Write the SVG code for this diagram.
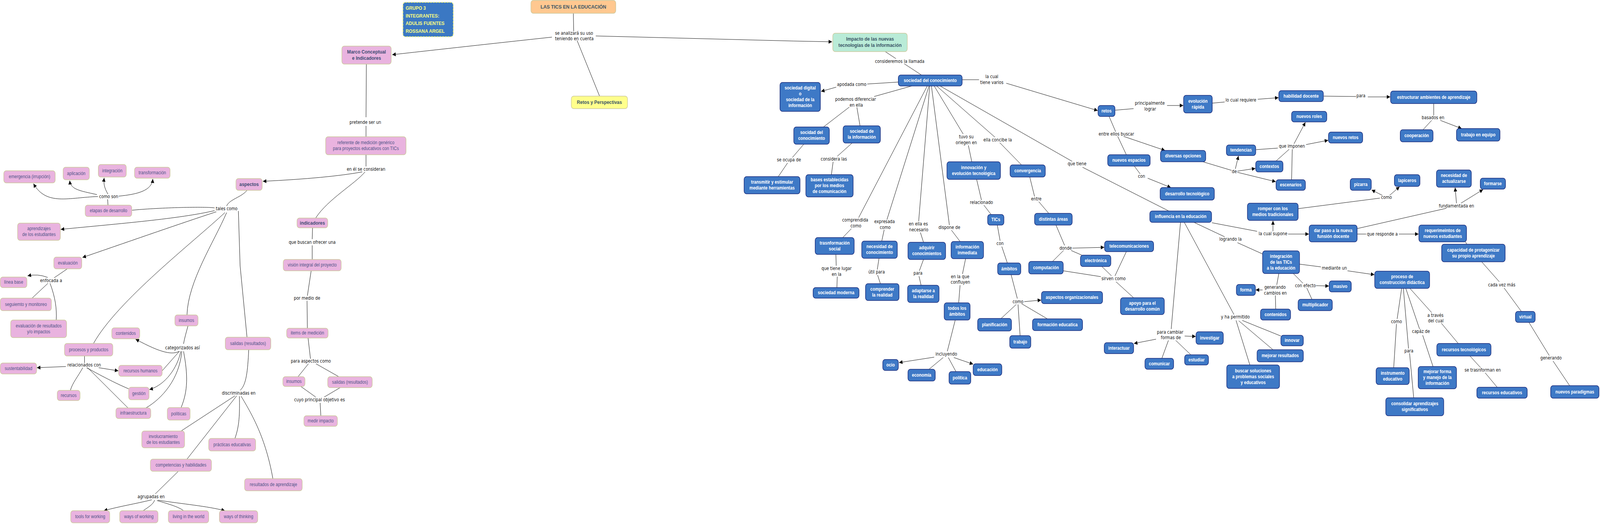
<svg xmlns="http://www.w3.org/2000/svg" width="4638" height="1341" viewBox="0 0 4638 1341" preserveAspectRatio="none">
<defs>
<style>
svg{width:100vw;height:100vh;display:block}
.np{fill:#E9B3DF;stroke:#CCC89A;stroke-width:1.5}
.nb{fill:#3E79C6;stroke:#172A7C;stroke-width:1.6}
.tp{font-family:"Liberation Sans",Arial,sans-serif;font-size:12px;fill:#505488;text-anchor:middle}
.tpb{font-family:"Liberation Sans",Arial,sans-serif;font-size:13px;font-weight:bold;fill:#3F4B74;text-anchor:middle}
.tb{font-family:"Liberation Sans",Arial,sans-serif;font-size:12px;font-weight:bold;fill:#FFFFFF;text-anchor:middle}
.tl{font-family:"DejaVu Sans",Verdana,sans-serif;font-size:11.5px;fill:#111111;text-anchor:middle}
.th{font-family:"Liberation Sans",Arial,sans-serif;font-weight:bold;fill:#3B5566;text-anchor:middle}
#connectors path{fill:none;stroke:#000;stroke-width:1}
#connectors path.a{marker-end:url(#ah)}
</style>
<marker id="ah" viewBox="0 0 10 10" refX="10" refY="5" markerWidth="11" markerHeight="10" markerUnits="userSpaceOnUse" orient="auto"><path d="M0,0 L10,5 L0,10 z" fill="#000"/></marker>
</defs>
<rect width="4638" height="1341" fill="#FFFFFF"/>

<g id="connectors">
<path d="M1662,34 L1663,80"/>
<path class="a" d="M1600,95 Q1400,114 1137,140"/>
<path class="a" d="M1727,92 L2300,105 L2412,107"/>
<path d="M1673,104 L1738,246"/>
<path d="M1062,164 L1061,300 M1061,322 L1061,350"/>
<path d="M1061,396 L1061,426"/>
<path class="a" d="M1050,440 Q950,456 762,464"/>
<path d="M1058,440 C1030,470 950,510 915,558"/>
<path d="M906,583 L905,612 M905,628 L905,664"/>
<path d="M902,693 L891,757 M890,770 L891,840"/>
<path d="M893,865 L900,918 M894,931 L864,964 M916,931 L982,964"/>
<path d="M872,989 L915,1016 M986,992 L940,1016 M928,1031 L930,1064"/>
<path d="M716,487 C700,505 665,510 657,527"/>
<path d="M622,532 C590,528 450,532 383,538"/>
<path class="a" d="M622,539 C520,560 350,572 176,587"/>
<path class="a" d="M627,542 C530,570 400,610 239,659"/>
<path d="M652,544 C560,620 340,770 271,879"/>
<path d="M657,544 C620,620 545,720 542,806"/>
<path d="M691,540 L696,680 L716,863"/>
<path d="M313,525 L312,510"/>
<path class="a" d="M284,503 C200,505 135,528 97,470"/>
<path class="a" d="M281,498 C230,488 205,485 202,462"/>
<path class="a" d="M313,497 C302,480 300,470 302,455"/>
<path class="a" d="M344,502 C400,497 440,488 443,458"/>
<path d="M195,688 L157,711"/>
<path class="a" d="M138,710 Q110,700 80,706"/>
<path d="M139,725 L93,763"/>
<path d="M145,725 C160,760 165,790 163,819"/>
<path d="M245,911 L245,929"/>
<path class="a" d="M191,938 L107,941"/>
<path class="a" d="M286,941 L343,949"/>
<path d="M240,941 C225,965 210,980 204,999"/>
<path d="M251,941 C300,965 345,985 373,995"/>
<path d="M254,941 L371,1044"/>
<path d="M545,834 C540,850 535,865 532,880"/>
<path class="a" d="M520,899 C500,908 470,905 393,868"/>
<path d="M520,899 L470,949"/>
<path class="a" d="M524,899 C515,940 480,985 433,997"/>
<path d="M527,899 C520,970 470,1020 423,1044"/>
<path d="M532,899 C545,960 545,1000 525,1043"/>
<path d="M721,895 C718,950 714,985 696,999"/>
<path d="M681,1013 L525,1103"/>
<path d="M686,1013 L542,1175"/>
<path d="M694,1014 C695,1060 694,1090 681,1122"/>
<path d="M699,1014 C730,1060 770,1120 791,1225"/>
<path d="M517,1206 L450,1264"/>
<path class="a" d="M440,1279 C390,1290 350,1295 301,1307"/>
<path d="M448,1280 C445,1290 430,1298 415,1307"/>
<path d="M455,1281 C490,1290 520,1298 532,1307"/>
<path class="a" d="M458,1280 C530,1290 600,1295 652,1307"/>

<path d="M2566,132 L2597,150 M2621,163 L2671,192"/>
<path d="M2604,210 L2514,215"/>
<path class="a" d="M2424,223 L2380,234"/>
<path d="M2789,204 L2838,204"/>
<path class="a" d="M2917,213 L3182,283"/>
<path d="M2643,220 L2534,247"/>
<path d="M2462,274 L2387,325 M2484,275 L2493,322"/>
<path d="M2330,369 L2297,403 M2283,417 L2256,452"/>
<path d="M2470,366 L2427,400 M2415,414 L2410,447"/>
<path d="M2688,220 L2489,557 M2468,585 L2443,608"/>
<path d="M2693,220 L2571,562 M2563,588 L2556,617"/>
<path d="M2695,220 L2663,566 M2668,595 L2677,620"/>
<path d="M2700,220 L2752,576 M2758,589 L2783,618"/>
<path d="M2708,220 L2792,343 M2807,372 L2817,414"/>
<path d="M2715,220 L2884,351 M2898,365 L2961,422"/>
<path d="M2725,220 L3108,413 M3138,428 L3388,540"/>
<path d="M2831,459 L2845,512 M2852,525 L2873,549"/>
<path d="M2891,576 L2899,616 M2904,631 L2920,673"/>
<path d="M2985,453 L2999,503 M3011,516 L3040,546"/>
<path d="M2931,703 L2949,764 M2946,779 L2902,815 M2951,779 L2957,859 M2961,777 L3036,816"/>
<path class="a" d="M2969,772 L3018,768"/>
<path d="M2799,662 L2790,701 M2783,730 L2779,775"/>
<path d="M2769,819 L2746,899 M2734,915 L2693,945 M2749,915 L2771,951"/>
<path class="a" d="M2708,914 L2606,928"/>
<path class="a" d="M2765,915 L2821,932"/>
<path d="M2423,651 L2424,680 M2427,708 L2426,736"/>
<path d="M2548,661 L2543,690 M2544,704 L2552,726"/>
<path d="M2677,664 L2665,693 M2664,707 L2670,730"/>
<path d="M3233,282 L3286,278"/>
<path class="a" d="M3383,270 L3430,270"/>
<path d="M3514,264 L3550,261"/>
<path class="a" d="M3646,254 L3706,250"/>
<path d="M3837,246 L3931,247"/>
<path class="a" d="M3965,248 L4030,248"/>
<path d="M4156,265 L4156,295 M4150,308 L4125,332"/>
<path class="a" d="M4175,308 L4237,329"/>
<path d="M3215,298 L3234,337 M3240,349 L3265,396"/>
<path class="a" d="M3257,349 L3377,385"/>
<path d="M3288,425 L3305,445"/>
<path class="a" d="M3327,456 L3394,480"/>
<path d="M3487,414 L3570,436"/>
<path class="a" d="M3581,432 L3590,399"/>
<path class="a" d="M3587,438 L3639,431"/>
<path class="a" d="M3587,441 L3698,465"/>
<path d="M3641,383 L3704,379 M3699,412 L3737,382 M3744,460 L3746,382"/>
<path class="a" d="M3751,368 L3784,313"/>
<path class="a" d="M3786,370 L3850,359"/>
<path d="M3513,570 L3644,592"/>
<path class="a" d="M3690,592 L3690,565"/>
<path class="a" d="M3734,599 L3794,599"/>
<path d="M3461,569 L3550,606 M3587,621 L3660,650"/>
<path d="M3767,676 L3829,683"/>
<path class="a" d="M3906,693 L3984,703"/>
<path d="M3707,700 L3701,729 M3697,756 L3698,791"/>
<path class="a" d="M3660,742 L3640,742"/>
<path d="M3749,700 L3777,725 M3788,737 L3803,766"/>
<path class="a" d="M3815,731 L3852,732"/>
<path d="M3422,569 L3395,842 M3387,871 L3368,917 M3408,871 L3452,908"/>
<path class="a" d="M3434,860 L3466,861"/>
<path class="a" d="M3351,868 L3287,879"/>
<path d="M3433,569 L3577,805 M3601,820 L3713,860 M3591,821 L3690,895 M3583,820 L3623,934"/>
<path d="M3061,576 L3086,628 M3105,641 L3136,653 M3083,641 L3050,670"/>
<path class="a" d="M3109,635 L3201,633"/>
<path d="M3082,693 L3191,708 M3194,682 L3222,706 M3265,644 L3232,706 M3235,721 L3286,762"/>
<path d="M3934,599 L3960,599"/>
<path class="a" d="M4055,599 L4112,599"/>
<path d="M3934,585 L4193,533"/>
<path class="a" d="M4222,520 L4218,480"/>
<path class="a" d="M4235,520 L4299,485"/>
<path d="M3763,534 L4000,507"/>
<path class="a" d="M4007,500 L3976,486"/>
<path class="a" d="M4028,500 L4057,478"/>
<path d="M4248,619 L4252,625"/>
<path d="M4295,670 L4346,721 M4360,737 L4410,797"/>
<path d="M4432,825 L4491,910 M4502,924 L4550,987"/>
<path d="M4063,738 L4050,816 M4048,829 L4040,941"/>
<path d="M4068,738 L4083,892 M4086,904 L4098,1018"/>
<path d="M4075,738 L4115,842 M4124,858 L4154,938"/>
<path d="M4087,738 L4150,800 M4178,827 L4227,879"/>
<path d="M4261,911 L4292,941 M4305,954 L4340,991"/>
</g>

<g id="labels">
<text class="tl" x="1664" y="89">se analizará su uso</text>
<text class="tl" x="1665" y="103">teniendo en cuenta</text>
<text class="tl" x="1059" y="317">pretende ser un</text>
<text class="tl" x="1061" y="437">en él se consideran</text>
<text class="tl" x="905" y="624">que buscan ofrecer una</text>
<text class="tl" x="890" y="767">por medio de</text>
<text class="tl" x="901" y="928">para  aspectos como</text>
<text class="tl" x="926" y="1027">cuyo principal objetivo es</text>
<text class="tl" x="315" y="507">como son</text>
<text class="tl" x="657" y="538">tales como</text>
<text class="tl" x="148" y="722">enfocada a</text>
<text class="tl" x="244" y="938">relacionados con</text>
<text class="tl" x="529" y="894">categorizados así</text>
<text class="tl" x="692" y="1010">discriminadas en</text>
<text class="tl" x="438" y="1275">agrupadas en</text>
<text class="tl" x="2608" y="161">consideremos la llamada</text>
<text class="tl" x="2875" y="200">la cual</text>
<text class="tl" x="2875" y="215">tiene varios</text>
<text class="tl" x="2469" y="220">apodada como</text>
<text class="tl" x="2480" y="258">podemos diferenciar</text>
<text class="tl" x="2482" y="273">en ella</text>
<text class="tl" x="2287" y="413">se ocupa de</text>
<text class="tl" x="2417" y="411">considera las</text>
<text class="tl" x="2801" y="354">tuvo su</text>
<text class="tl" x="2801" y="369">oriegen en</text>
<text class="tl" x="2892" y="362">ella concibe la</text>
<text class="tl" x="2845" y="522">relacionado</text>
<text class="tl" x="3004" y="513">entre</text>
<text class="tl" x="2479" y="567">comprendida</text>
<text class="tl" x="2481" y="582">como</text>
<text class="tl" x="2564" y="571">expresada</text>
<text class="tl" x="2566" y="586">como</text>
<text class="tl" x="2662" y="577">en ella es</text>
<text class="tl" x="2663" y="592">necesario</text>
<text class="tl" x="2752" y="586">dispone de</text>
<text class="tl" x="2899" y="627">con</text>
<text class="tl" x="2425" y="691">que tiene lugar</text>
<text class="tl" x="2425" y="706">en la</text>
<text class="tl" x="2541" y="700">útil para</text>
<text class="tl" x="2661" y="703">para</text>
<text class="tl" x="2783" y="712">en la que</text>
<text class="tl" x="2784" y="726">confluyen</text>
<text class="tl" x="2951" y="776">como</text>
<text class="tl" x="2743" y="910">incluyendo</text>
<text class="tl" x="3333" y="268">principalmente</text>
<text class="tl" x="3334" y="283">lograr</text>
<text class="tl" x="3597" y="260">lo cual requiere</text>
<text class="tl" x="3945" y="249">para</text>
<text class="tl" x="4154" y="305">basados en</text>
<text class="tl" x="3236" y="347">entre ellos buscar</text>
<text class="tl" x="3745" y="378">que imponen</text>
<text class="tl" x="3122" y="423">que tiene</text>
<text class="tl" x="3578" y="443">de</text>
<text class="tl" x="3309" y="455">con</text>
<text class="tl" x="3690" y="602">la cual supone</text>
<text class="tl" x="3567" y="616">logrando la</text>
<text class="tl" x="3089" y="639">donde</text>
<text class="tl" x="3228" y="717">sirven como</text>
<text class="tl" x="3868" y="690">mediante un</text>
<text class="tl" x="3696" y="739">generando</text>
<text class="tl" x="3697" y="754">cambios en</text>
<text class="tl" x="3784" y="735">con efecto</text>
<text class="tl" x="3581" y="815">y ha permitido</text>
<text class="tl" x="3392" y="854">para cambiar</text>
<text class="tl" x="3394" y="868">formas de</text>
<text class="tl" x="4019" y="509">como</text>
<text class="tl" x="4222" y="531">fundamentada en</text>
<text class="tl" x="4007" y="603">que responde a</text>
<text class="tl" x="4353" y="733">cada vez más</text>
<text class="tl" x="4048" y="827">como</text>
<text class="tl" x="4161" y="811">a través</text>
<text class="tl" x="4162" y="825">del cual</text>
<text class="tl" x="4119" y="852">capáz de</text>
<text class="tl" x="4084" y="902">para</text>
<text class="tl" x="4496" y="920">generando</text>
<text class="tl" x="4298" y="951">se trasnforman en</text>
</g>

<g id="nodes">
<g id="n-tics"><rect x="1539" y="1" width="246" height="33" rx="7" fill="#FFC890" stroke="#CCC89A" stroke-width="1.5"/><text class="th" x="1662" y="22.5" font-size="13.5">LAS TICS EN LA EDUCACIÓN</text></g>
<g id="n-grupo"><rect x="1168" y="6" width="146" height="88" rx="7" fill="#3B78C3" stroke="#F2F27A" stroke-width="2" stroke-dasharray="5,3"/><text x="1176" font-family="'Liberation Sans',Arial,sans-serif" font-size="13" font-weight="bold" fill="#FFFF80"><tspan x="1176" y="25">GRUPO 3</tspan><tspan x="1176" y="45">INTEGRANTES:</tspan><tspan x="1176" y="64.5">ADULIS FUENTES</tspan><tspan x="1176" y="84">ROSSANA ARGEL</tspan></text></g>
<g id="n-retosp"><rect x="1656" y="246" width="163" height="32" rx="7" fill="#FFFF8C" stroke="#CCC89A" stroke-width="1.5"/><text class="th" x="1737.5" y="266.5" font-size="13">Retos y Perspectivas</text></g>
<g id="n-impacto"><rect x="2414" y="85" width="216" height="47" rx="7" fill="#B9EBD7" stroke="#CCC89A" stroke-width="1.5"/><text class="th" x="2522" y="104.5" font-size="13">Impacto de las nuevas</text><text class="th" x="2522" y="120.5" font-size="13">tecnologías de la información</text></g>

<g id="n-marco"><rect class="np" x="991" y="118" width="143" height="46" rx="7"/><text class="tpb" x="1062.5" y="137.5">Marco Conceptual</text><text class="tpb" x="1062.5" y="153.5">e Indicadores</text></g>
<g id="n-referente"><rect class="np" x="944" y="350" width="233" height="46" rx="7"/><text class="tp" x="1060.5" y="369.5">referente de medición genérico</text><text class="tp" x="1060.5" y="384.5">para proyectos educativos  con TICs</text></g>
<g id="n-indicadores"><rect class="np" x="861" y="558" width="89" height="25" rx="7"/><text class="tpb" x="905.5" y="575">indicadores</text></g>
<g id="n-vision"><rect class="np" x="821" y="664" width="168" height="29" rx="7"/><text class="tp" x="905" y="682.5">visión integral del proyecto</text></g>
<g id="n-items"><rect class="np" x="831" y="840" width="120" height="25" rx="7"/><text class="tp" x="891" y="856.5">items de medición</text></g>
<g id="n-insumosR"><rect class="np" x="820" y="964" width="64" height="25" rx="7"/><text class="tp" x="852" y="980.5">insumos</text></g>
<g id="n-salidasR"><rect class="np" x="950" y="964" width="129" height="28" rx="7"/><text class="tp" x="1014.5" y="982">salidas (resultados)</text></g>
<g id="n-medir"><rect class="np" x="881" y="1064" width="97" height="27" rx="7"/><text class="tp" x="929.5" y="1081.5">medir impacto</text></g>
<g id="n-emergencia"><rect class="np" x="11" y="437" width="149" height="31" rx="7"/><text class="tp" x="85.5" y="456.5">emergencia (irrupción)</text></g>
<g id="n-aplicacion"><rect class="np" x="183" y="428" width="76" height="32" rx="7"/><text class="tp" x="221" y="448">aplicación</text></g>
<g id="n-integracionP"><rect class="np" x="285" y="421" width="81" height="32" rx="7"/><text class="tp" x="325.5" y="441">integración</text></g>
<g id="n-transformacion"><rect class="np" x="390" y="428" width="103" height="28" rx="7"/><text class="tp" x="441.5" y="446">transformación</text></g>
<g id="n-aspectos"><rect class="np" x="684" y="457" width="76" height="30" rx="7"/><text class="tpb" x="722" y="476.5">aspectos</text></g>
<g id="n-etapas"><rect class="np" x="247" y="525" width="135" height="29" rx="7"/><text class="tp" x="314.5" y="543.5">etapas de desarrollo</text></g>
<g id="n-aprendizajes"><rect class="np" x="51" y="571" width="124" height="44" rx="7"/><text class="tp" x="113" y="589.5">aprendizajes</text><text class="tp" x="113" y="604.5">de los estudiantes</text></g>
<g id="n-evaluacion"><rect class="np" x="156" y="658" width="81" height="30" rx="7"/><text class="tp" x="196.5" y="677">evaluación</text></g>
<g id="n-lineabase"><rect class="np" x="1" y="709" width="77" height="27" rx="7"/><text class="tp" x="39.5" y="726.5">línea base</text></g>
<g id="n-seguimiento"><rect class="np" x="1" y="763" width="148" height="32" rx="7"/><text class="tp" x="75" y="783">seguiemto y monitoreo</text></g>
<g id="n-evalres"><rect class="np" x="31" y="819" width="162" height="45" rx="7"/><text class="tp" x="112" y="838">evaluación de resultados</text><text class="tp" x="112" y="853">y/o impactos</text></g>
<g id="n-insumosL"><rect class="np" x="507" y="806" width="67" height="28" rx="7"/><text class="tp" x="540.5" y="824">insumos</text></g>
<g id="n-contenidosP"><rect class="np" x="324" y="839" width="81" height="28" rx="7"/><text class="tp" x="364.5" y="857">contenidos</text></g>
<g id="n-salidasL"><rect class="np" x="653" y="863" width="132" height="32" rx="7"/><text class="tp" x="719" y="883">salidas (resultados)</text></g>
<g id="n-procesos"><rect class="np" x="187" y="879" width="140" height="32" rx="7"/><text class="tp" x="257" y="899">procesos y productos</text></g>
<g id="n-sustentabilidad"><rect class="np" x="1" y="929" width="105" height="28" rx="7"/><text class="tp" x="53.5" y="947">sustentabilidad</text></g>
<g id="n-rrhh"><rect class="np" x="344" y="935" width="126" height="28" rx="7"/><text class="tp" x="407" y="953">recursos humanos</text></g>
<g id="n-recursos"><rect class="np" x="166" y="999" width="66" height="26" rx="7"/><text class="tp" x="199" y="1016">recursos</text></g>
<g id="n-gestion"><rect class="np" x="373" y="991" width="59" height="32" rx="7"/><text class="tp" x="402.5" y="1011">gestión</text></g>
<g id="n-infra"><rect class="np" x="336" y="1044" width="101" height="27" rx="7"/><text class="tp" x="386.5" y="1061.5">infraestructura</text></g>
<g id="n-politicas"><rect class="np" x="485" y="1043" width="66" height="32" rx="7"/><text class="tp" x="518" y="1063">políticas</text></g>
<g id="n-involucramiento"><rect class="np" x="411" y="1103" width="124" height="43" rx="7"/><text class="tp" x="473" y="1121">involucramiento</text><text class="tp" x="473" y="1136">de los estudiantes</text></g>
<g id="n-practicas"><rect class="np" x="605" y="1122" width="136" height="32" rx="7"/><text class="tp" x="673" y="1142">prácticas educativas</text></g>
<g id="n-competencias"><rect class="np" x="436" y="1175" width="177" height="31" rx="7"/><text class="tp" x="524.5" y="1194.5">competencias y habilidades</text></g>
<g id="n-resultados"><rect class="np" x="709" y="1225" width="167" height="31" rx="7"/><text class="tp" x="792.5" y="1244.5">resultados de aprendizaje</text></g>
<g id="n-tools"><rect class="np" x="205" y="1307" width="113" height="31" rx="7"/><text class="tp" x="261.5" y="1326.5">tools for working</text></g>
<g id="n-waysw"><rect class="np" x="347" y="1307" width="111" height="31" rx="7"/><text class="tp" x="402.5" y="1326.5">ways of working</text></g>
<g id="n-living"><rect class="np" x="488" y="1307" width="117" height="31" rx="7"/><text class="tp" x="546.5" y="1326.5">living in the world</text></g>
<g id="n-wayst"><rect class="np" x="636" y="1307" width="111" height="31" rx="7"/><text class="tp" x="691.5" y="1326.5">ways of thinking</text></g>

<g id="n-sococ"><rect class="nb" x="2604" y="192" width="185" height="28" rx="7"/><text class="tb" x="2696.5" y="210">sociedad del conocimiento</text></g>
<g id="n-socdig"><rect class="nb" x="2261" y="211" width="117" height="74" rx="7"/><text class="tb" x="2319.5" y="229.5">sociedad digital</text><text class="tb" x="2319.5" y="244.5">o</text><text class="tb" x="2319.5" y="259.5">sociedad de la</text><text class="tb" x="2319.5" y="274.5">información</text></g>
<g id="n-socidad"><rect class="nb" x="2301" y="325" width="103" height="44" rx="7"/><text class="tb" x="2352.5" y="343.5">socidad del</text><text class="tb" x="2352.5" y="358.5">conocimiento</text></g>
<g id="n-socinf"><rect class="nb" x="2444" y="322" width="108" height="44" rx="7"/><text class="tb" x="2498" y="340.5">sociedad de</text><text class="tb" x="2498" y="355.5">la información</text></g>
<g id="n-transmitir"><rect class="nb" x="2157" y="452" width="162" height="44" rx="7"/><text class="tb" x="2238" y="470.5">transmitir y estimular</text><text class="tb" x="2238" y="485.5">mediante herramientas</text></g>
<g id="n-bases"><rect class="nb" x="2336" y="447" width="137" height="57" rx="7"/><text class="tb" x="2404.5" y="464.5">bases establecidas</text><text class="tb" x="2404.5" y="479.5">por los medios</text><text class="tb" x="2404.5" y="494.5">de comunicación</text></g>
<g id="n-innovacion"><rect class="nb" x="2745" y="414" width="155" height="45" rx="7"/><text class="tb" x="2822.5" y="433">innovación y</text><text class="tb" x="2822.5" y="448">evolución tecnológica</text></g>
<g id="n-convergencia"><rect class="nb" x="2928" y="422" width="102" height="31" rx="7"/><text class="tb" x="2979" y="441.5">convergencia</text></g>
<g id="n-tics2"><rect class="nb" x="2863" y="549" width="47" height="27" rx="7"/><text class="tb" x="2886.5" y="566.5">TICs</text></g>
<g id="n-distintas"><rect class="nb" x="2999" y="546" width="109" height="30" rx="7"/><text class="tb" x="3053.5" y="565">distintas áreas</text></g>
<g id="n-trasnf"><rect class="nb" x="2363" y="608" width="113" height="43" rx="7"/><text class="tb" x="2419.5" y="626">trasnformación</text><text class="tb" x="2419.5" y="641">social</text></g>
<g id="n-necesidad"><rect class="nb" x="2498" y="617" width="103" height="44" rx="7"/><text class="tb" x="2549.5" y="635.5">necesidad de</text><text class="tb" x="2549.5" y="650.5">conocimiento</text></g>
<g id="n-adquirir"><rect class="nb" x="2632" y="620" width="109" height="44" rx="7"/><text class="tb" x="2686.5" y="638.5">adquirir</text><text class="tb" x="2686.5" y="653.5">conocimientos</text></g>
<g id="n-infinm"><rect class="nb" x="2757" y="618" width="94" height="44" rx="7"/><text class="tb" x="2804" y="636.5">información</text><text class="tb" x="2804" y="651.5">inmediata</text></g>
<g id="n-ambitos"><rect class="nb" x="2892" y="673" width="67" height="30" rx="7"/><text class="tb" x="2925.5" y="692">ámbitos</text></g>
<g id="n-computacion"><rect class="nb" x="2982" y="669" width="100" height="32" rx="7"/><text class="tb" x="3032" y="689">computación</text></g>
<g id="n-socmod"><rect class="nb" x="2357" y="736" width="133" height="27" rx="7"/><text class="tb" x="2423.5" y="753.5">sociedad moderna</text></g>
<g id="n-comprender"><rect class="nb" x="2509" y="726" width="97" height="43" rx="7"/><text class="tb" x="2557.5" y="744">comprender</text><text class="tb" x="2557.5" y="759">la realidad</text></g>
<g id="n-adaptarse"><rect class="nb" x="2631" y="730" width="91" height="44" rx="7"/><text class="tb" x="2676.5" y="748.5">adaptarse a</text><text class="tb" x="2676.5" y="763.5">la realidad</text></g>
<g id="n-todos"><rect class="nb" x="2737" y="775" width="75" height="44" rx="7"/><text class="tb" x="2774.5" y="793.5">todos los</text><text class="tb" x="2774.5" y="808.5">ámbitos</text></g>
<g id="n-asporg"><rect class="nb" x="3019" y="746" width="177" height="31" rx="7"/><text class="tb" x="3107.5" y="765.5">aspectos organizacionales</text></g>
<g id="n-planif"><rect class="nb" x="2834" y="815" width="98" height="32" rx="7"/><text class="tb" x="2883" y="835">planificación</text></g>
<g id="n-formedu"><rect class="nb" x="2993" y="816" width="145" height="30" rx="7"/><text class="tb" x="3065.5" y="835">formación educatica</text></g>
<g id="n-trabajo"><rect class="nb" x="2927" y="859" width="61" height="32" rx="7"/><text class="tb" x="2957.5" y="879">trabajo</text></g>
<g id="n-ocio"><rect class="nb" x="2559" y="920" width="45" height="28" rx="7"/><text class="tb" x="2581.5" y="938">ocio</text></g>
<g id="n-economia"><rect class="nb" x="2632" y="945" width="79" height="30" rx="7"/><text class="tb" x="2671.5" y="964">economía</text></g>
<g id="n-politica"><rect class="nb" x="2751" y="951" width="63" height="32" rx="7"/><text class="tb" x="2782.5" y="971">política</text></g>
<g id="n-educacion"><rect class="nb" x="2821" y="931" width="83" height="30" rx="7"/><text class="tb" x="2862.5" y="950">educación</text></g>
<g id="n-retos"><rect class="nb" x="3183" y="270" width="49" height="28" rx="7"/><text class="tb" x="3207.5" y="288">retos</text></g>
<g id="n-evolucion"><rect class="nb" x="3431" y="244" width="83" height="45" rx="7"/><text class="tb" x="3472.5" y="263">evolución</text><text class="tb" x="3472.5" y="278">rápida</text></g>
<g id="n-habilidad"><rect class="nb" x="3707" y="232" width="129" height="28" rx="7"/><text class="tb" x="3771.5" y="250">habilidad docente</text></g>
<g id="n-estructurar"><rect class="nb" x="4031" y="233" width="250" height="32" rx="7"/><text class="tb" x="4156" y="253">estructurar ambientes de aprendizaje</text></g>
<g id="n-nroles"><rect class="nb" x="3744" y="285" width="102" height="27" rx="7"/><text class="tb" x="3795" y="302.5">nuevos roles</text></g>
<g id="n-nretos"><rect class="nb" x="3851" y="338" width="99" height="28" rx="7"/><text class="tb" x="3900.5" y="356">nuevos retos</text></g>
<g id="n-tendencias"><rect class="nb" x="3555" y="371" width="85" height="27" rx="7"/><text class="tb" x="3597.5" y="388.5">tendencias</text></g>
<g id="n-diversas"><rect class="nb" x="3364" y="385" width="131" height="29" rx="7"/><text class="tb" x="3429.5" y="403.5">diversas opciones</text></g>
<g id="n-nespacios"><rect class="nb" x="3211" y="396" width="123" height="29" rx="7"/><text class="tb" x="3272.5" y="414.5">nuevos espacios</text></g>
<g id="n-contextos"><rect class="nb" x="3640" y="412" width="79" height="28" rx="7"/><text class="tb" x="3679.5" y="430">contextos</text></g>
<g id="n-escenarios"><rect class="nb" x="3699" y="460" width="85" height="27" rx="7"/><text class="tb" x="3741.5" y="477.5">escenarios</text></g>
<g id="n-destec"><rect class="nb" x="3363" y="480" width="157" height="32" rx="7"/><text class="tb" x="3441.5" y="500">desarrollo tecnológico</text></g>
<g id="n-romper"><rect class="nb" x="3616" y="520" width="147" height="44" rx="7"/><text class="tb" x="3689.5" y="538.5">romper con los</text><text class="tb" x="3689.5" y="553.5">medios tradicionales</text></g>
<g id="n-influencia"><rect class="nb" x="3333" y="540" width="179" height="29" rx="7"/><text class="tb" x="3422.5" y="558.5">influencia en la educación</text></g>
<g id="n-darpaso"><rect class="nb" x="3795" y="576" width="139" height="43" rx="7"/><text class="tb" x="3864.5" y="594">dar paso a la nueva</text><text class="tb" x="3864.5" y="609">funsión docente</text></g>
<g id="n-telecom"><rect class="nb" x="3202" y="617" width="142" height="27" rx="7"/><text class="tb" x="3273" y="634.5">telecomunicaciones</text></g>
<g id="n-integracion"><rect class="nb" x="3660" y="642" width="107" height="58" rx="7"/><text class="tb" x="3713.5" y="660">integración</text><text class="tb" x="3713.5" y="675">de las TICs</text><text class="tb" x="3713.5" y="690">a la educación</text></g>
<g id="n-electronica"><rect class="nb" x="3132" y="653" width="88" height="29" rx="7"/><text class="tb" x="3176" y="671.5">electrónica</text></g>
<g id="n-forma"><rect class="nb" x="3584" y="728" width="55" height="28" rx="7"/><text class="tb" x="3611.5" y="746">forma</text></g>
<g id="n-masivo"><rect class="nb" x="3853" y="719" width="64" height="28" rx="7"/><text class="tb" x="3885" y="737">masivo</text></g>
<g id="n-apoyo"><rect class="nb" x="3248" y="762" width="127" height="43" rx="7"/><text class="tb" x="3311.5" y="780">apoyo para el</text><text class="tb" x="3311.5" y="795">desarrollo común</text></g>
<g id="n-multiplicador"><rect class="nb" x="3763" y="766" width="99" height="29" rx="7"/><text class="tb" x="3812.5" y="784.5">multiplicador</text></g>
<g id="n-contenidosB"><rect class="nb" x="3654" y="791" width="87" height="28" rx="7"/><text class="tb" x="3697.5" y="809">contenidos</text></g>
<g id="n-investigar"><rect class="nb" x="3467" y="849" width="79" height="32" rx="7"/><text class="tb" x="3506.5" y="869">investigar</text></g>
<g id="n-interactuar"><rect class="nb" x="3201" y="877" width="85" height="28" rx="7"/><text class="tb" x="3243.5" y="895">interactuar</text></g>
<g id="n-innovar"><rect class="nb" x="3713" y="858" width="65" height="27" rx="7"/><text class="tb" x="3745.5" y="875.5">innovar</text></g>
<g id="n-estudiar"><rect class="nb" x="3434" y="908" width="69" height="26" rx="7"/><text class="tb" x="3468.5" y="925">estudiar</text></g>
<g id="n-comunicar"><rect class="nb" x="3319" y="917" width="83" height="28" rx="7"/><text class="tb" x="3360.5" y="935">comunicar</text></g>
<g id="n-mejres"><rect class="nb" x="3644" y="895" width="134" height="31" rx="7"/><text class="tb" x="3711" y="914.5">mejorar resultados</text></g>
<g id="n-buscar"><rect class="nb" x="3556" y="934" width="153" height="60" rx="7"/><text class="tb" x="3632.5" y="953">buscar soluciones</text><text class="tb" x="3632.5" y="968">a problemas sociales</text><text class="tb" x="3632.5" y="983">y educativos</text></g>
<g id="n-cooperacion"><rect class="nb" x="4059" y="332" width="95" height="31" rx="7"/><text class="tb" x="4106.5" y="351.5">cooperación</text></g>
<g id="n-equipo"><rect class="nb" x="4222" y="329" width="126" height="32" rx="7"/><text class="tb" x="4285" y="349">trabajo en equipo</text></g>
<g id="n-pizarra"><rect class="nb" x="3914" y="457" width="61" height="30" rx="7"/><text class="tb" x="3944.5" y="476">pizarra</text></g>
<g id="n-lapiceros"><rect class="nb" x="4042" y="447" width="74" height="30" rx="7"/><text class="tb" x="4079" y="466">lapiceros</text></g>
<g id="n-actualizarse"><rect class="nb" x="4164" y="435" width="101" height="44" rx="7"/><text class="tb" x="4214.5" y="453.5">necesidad de</text><text class="tb" x="4214.5" y="468.5">actualizarse</text></g>
<g id="n-formarse"><rect class="nb" x="4291" y="456" width="73" height="28" rx="7"/><text class="tb" x="4327.5" y="474">formarse</text></g>
<g id="n-requer"><rect class="nb" x="4113" y="576" width="138" height="43" rx="7"/><text class="tb" x="4182" y="594">requerimeintos de</text><text class="tb" x="4182" y="609">nuevos estudiantes</text></g>
<g id="n-capacidad"><rect class="nb" x="4179" y="625" width="184" height="45" rx="7"/><text class="tb" x="4271" y="644">capacidad de protagonizar</text><text class="tb" x="4271" y="659">su propio aprendizaje</text></g>
<g id="n-proceso"><rect class="nb" x="3985" y="694" width="159" height="44" rx="7"/><text class="tb" x="4064.5" y="712.5">proceso de</text><text class="tb" x="4064.5" y="727.5">construcción didáctica</text></g>
<g id="n-virtual"><rect class="nb" x="4393" y="797" width="57" height="28" rx="7"/><text class="tb" x="4421.5" y="815">virtual</text></g>
<g id="n-rectec"><rect class="nb" x="4165" y="879" width="157" height="32" rx="7"/><text class="tb" x="4243.5" y="899">recursos tecnológicos</text></g>
<g id="n-instrumento"><rect class="nb" x="3989" y="941" width="96" height="43" rx="7"/><text class="tb" x="4037" y="959">instrumento</text><text class="tb" x="4037" y="974">educativo</text></g>
<g id="n-mejforma"><rect class="nb" x="4111" y="938" width="111" height="57" rx="7"/><text class="tb" x="4166.5" y="955.5">mejorar forma</text><text class="tb" x="4166.5" y="970.5">y manejo de la</text><text class="tb" x="4166.5" y="985.5">información</text></g>
<g id="n-recedu"><rect class="nb" x="4281" y="991" width="146" height="28" rx="7"/><text class="tb" x="4354" y="1009">recursos educativos</text></g>
<g id="n-paradigmas"><rect class="nb" x="4495" y="987" width="140" height="32" rx="7"/><text class="tb" x="4565" y="1007">nuevos paradigmas</text></g>
<g id="n-consolidar"><rect class="nb" x="4017" y="1018" width="168" height="46" rx="7"/><text class="tb" x="4101" y="1037.5">consolidar aprendizajes</text><text class="tb" x="4101" y="1052.5">significativos</text></g>
</g>
</svg>
